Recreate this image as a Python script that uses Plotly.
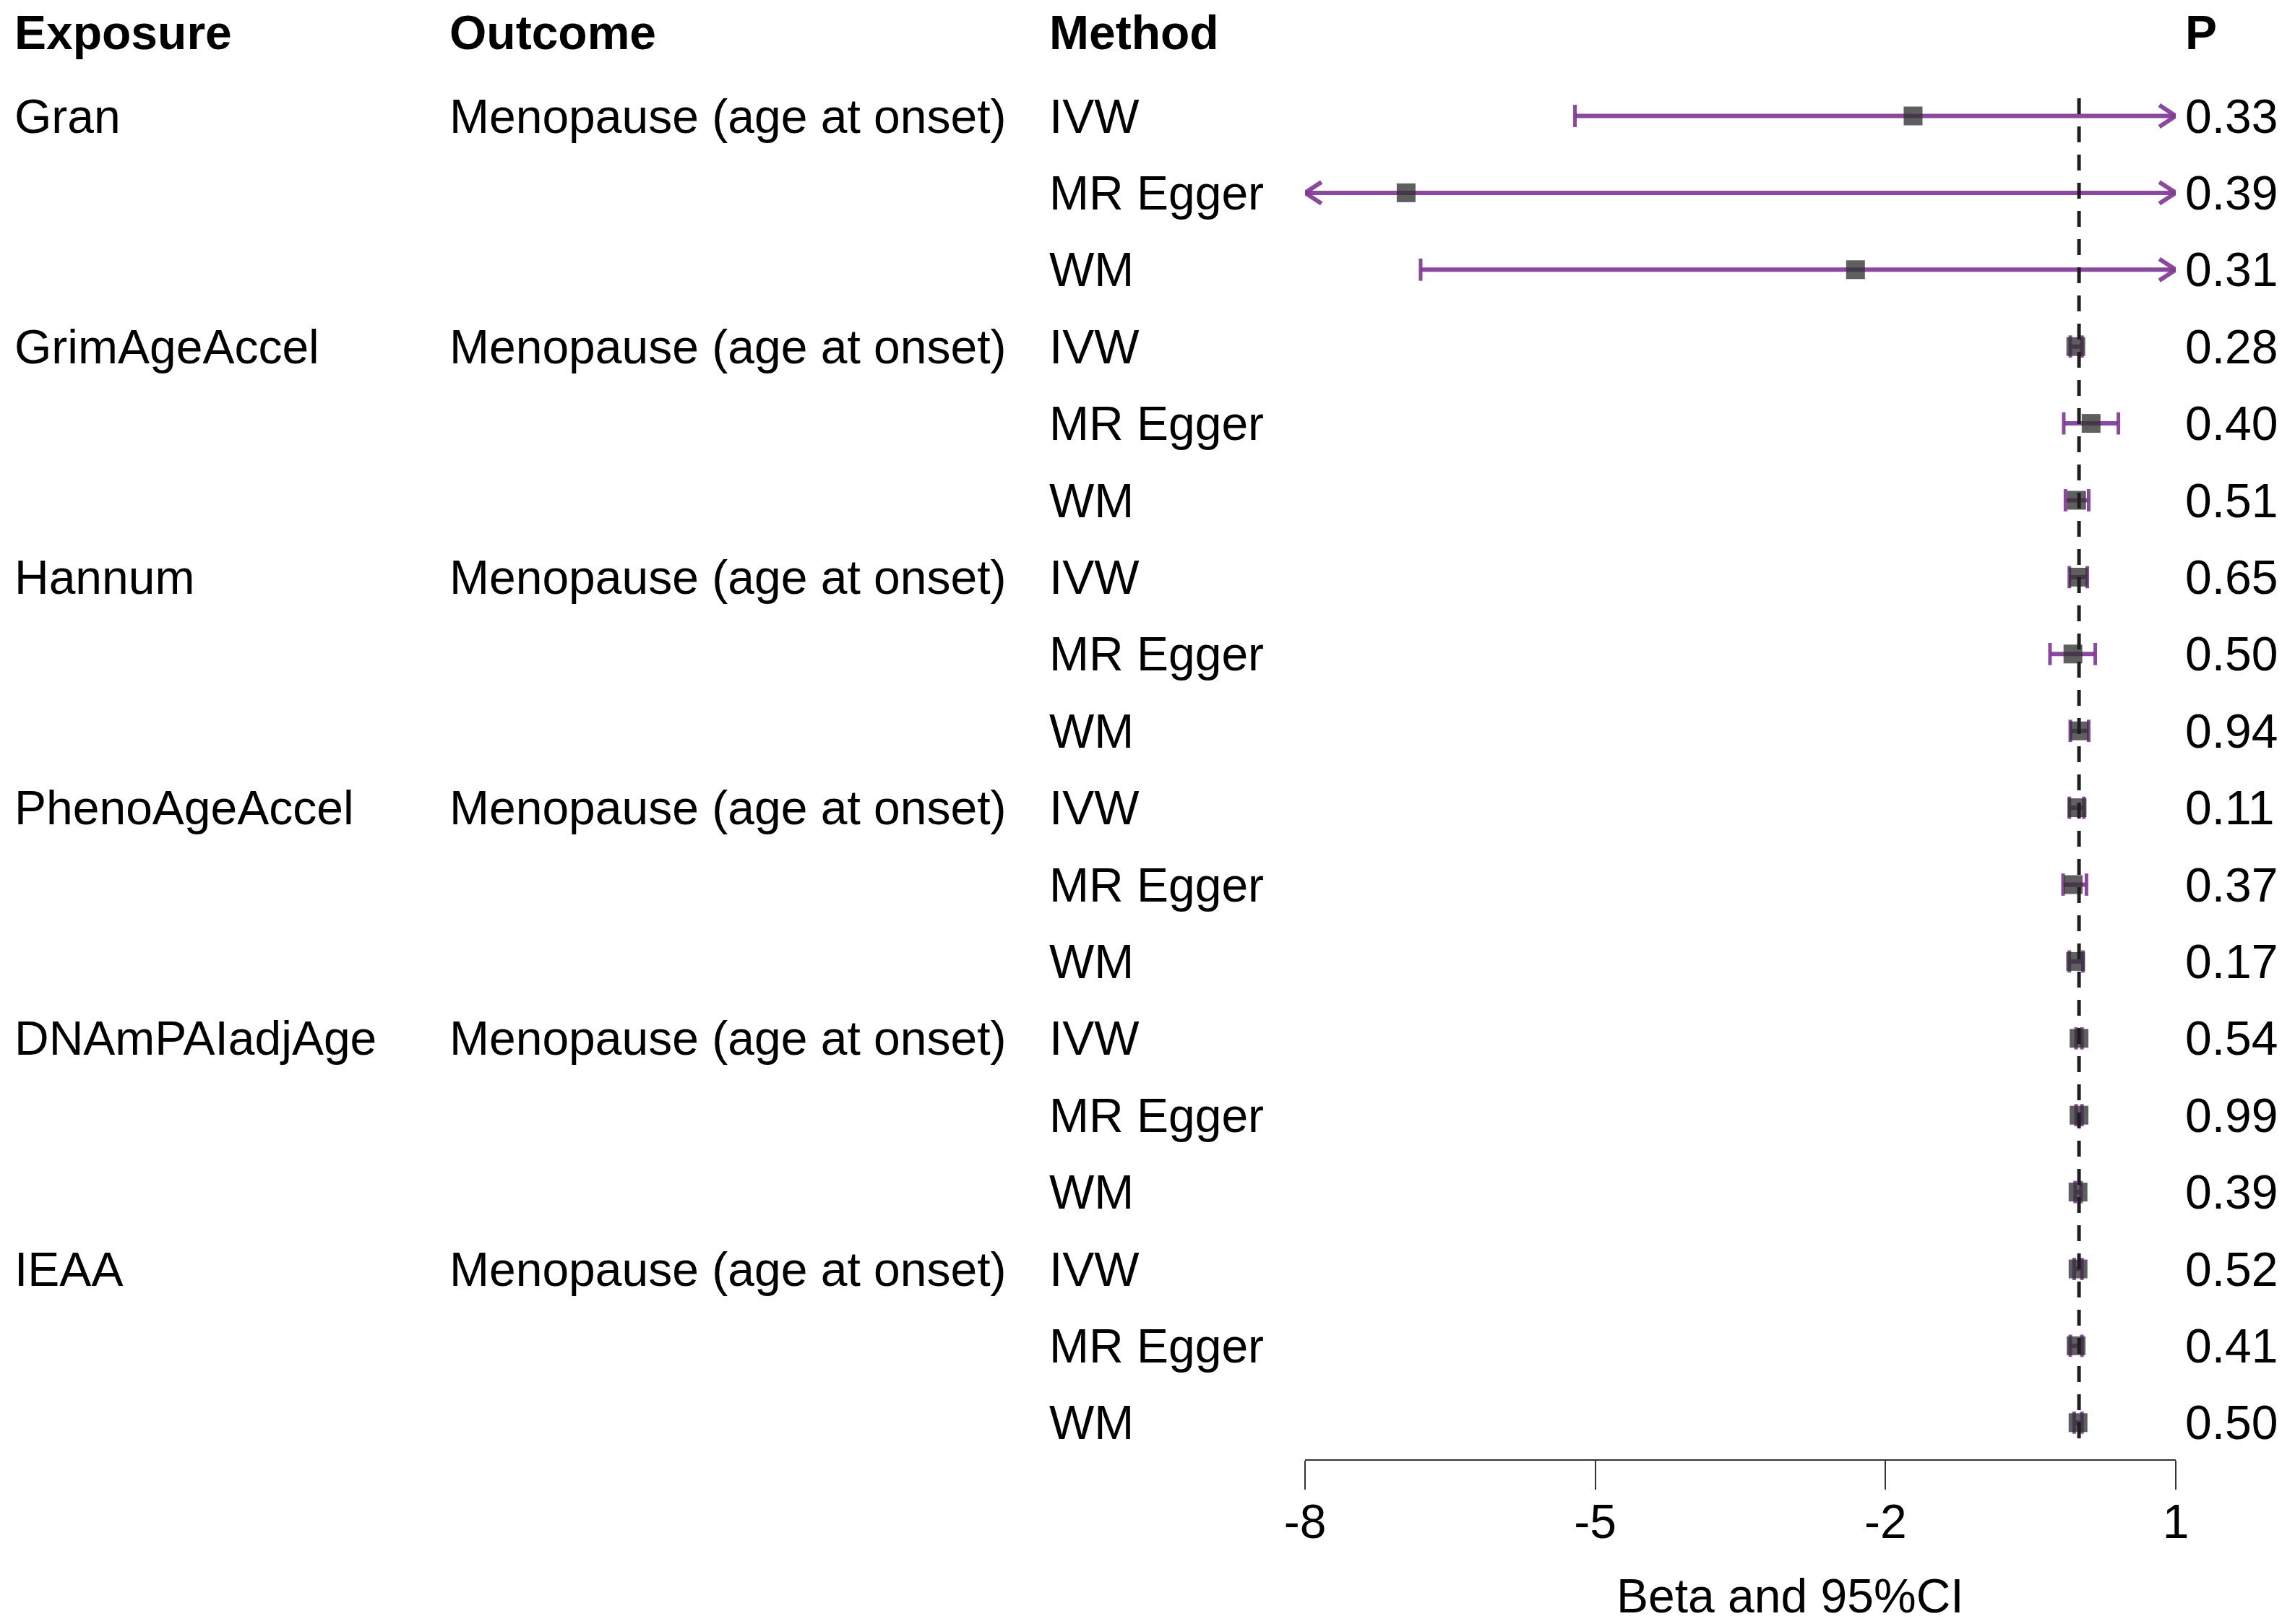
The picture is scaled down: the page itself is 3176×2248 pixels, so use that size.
import plotly.graph_objects as go

exposures = ["Gran", "GrimAgeAccel", "Hannum", "PhenoAgeAccel", "DNAmPAIadjAge", "IEAA"]
outcome = "Menopause (age at onset)"
methods = ["IVW", "MR Egger", "WM"]

beta = [-1.715, -6.955, -2.31,
        -0.033, 0.125, -0.025,
        -0.008, -0.063, 0.003,
        -0.02, -0.06, -0.035,
        0.0, 0.0, -0.01,
        -0.01, -0.03, -0.01]
lower = [-5.21, -22.8, -6.805,
         -0.09, -0.158, -0.14,
         -0.10, -0.30, -0.09,
         -0.10, -0.165, -0.10,
         -0.03, -0.03, -0.04,
         -0.05, -0.09, -0.05]
upper = [1.75, 8.9, 2.15,
         0.03, 0.407, 0.10,
         0.085, 0.168, 0.10,
         0.05, 0.077, 0.04,
         0.03, 0.03, 0.02,
         0.03, 0.03, 0.03]
pvals = ["0.33", "0.39", "0.31", "0.28", "0.40", "0.51", "0.65", "0.50", "0.94",
         "0.11", "0.37", "0.17", "0.54", "0.99", "0.39", "0.52", "0.41", "0.50"]

xticks = [-8, -5, -2, 1]
xmin, xmax = -8, 1
ref = 0

W, H = 3176, 2248
OX, OY = 8, 8          # page body margin
FONT = "Liberation Sans, Arial, sans-serif"
FS = 66
PURPLE = "rgba(128,58,150,0.92)"

rows = list(range(len(beta)))
row0, rowstep = 160.5 - OY, 106.4
axis_px = 2020 - OY

fig = go.Figure()

# CI lines (clipped to the axis range), caps and arrows for clipped ends
lx, ly = [], []
cap_x, cap_y = [], []
arr_x, arr_y = [], []
dx = 0.17   # arrow length in data units
dy = 0.14   # arrow half height in rows
for i in rows:
    lo = max(lower[i], xmin)
    hi = min(upper[i], xmax)
    lx += [lo, hi, None]
    ly += [i, i, None]
    if lower[i] < xmin:
        arr_x += [xmin + dx, xmin, xmin + dx, None]
        arr_y += [i - dy, i, i + dy, None]
    else:
        cap_x.append(lo)
        cap_y.append(i)
    if upper[i] > xmax:
        arr_x += [xmax - dx, xmax, xmax - dx, None]
        arr_y += [i - dy, i, i + dy, None]
    else:
        cap_x.append(hi)
        cap_y.append(i)

fig.add_trace(go.Scatter(x=lx, y=ly, mode="lines",
                         line=dict(color=PURPLE, width=6), hoverinfo="skip"))
fig.add_trace(go.Scatter(x=arr_x, y=arr_y, mode="lines",
                         line=dict(color=PURPLE, width=6), hoverinfo="skip"))
fig.add_trace(go.Scatter(x=cap_x, y=cap_y, mode="markers",
                         marker=dict(symbol="line-ns", size=22,
                                     line=dict(color=PURPLE, width=5)),
                         hoverinfo="skip"))
fig.add_trace(go.Scatter(x=beta, y=rows, mode="markers",
                         marker=dict(symbol="square", size=26,
                                     color="rgba(50,50,50,0.78)",
                                     line=dict(width=0))))

# reference line
fig.add_shape(type="line", x0=ref, x1=ref, y0=-0.23, y1=17.35,
              xref="x", yref="y",
              line=dict(color="#1e1e1e", width=5, dash="22px,17px"))


def txt(x, y, s, bold=False):
    fig.add_annotation(x=(x - OX) / W, y=y, xref="paper", yref="y",
                       text=f"<b>{s}</b>" if bold else s,
                       showarrow=False, xanchor="left", yanchor="middle",
                       font=dict(family=FONT, size=FS, color="black"))


col_exp, col_out, col_met, col_p = 18, 620, 1450, 3022
hdr = -1.09
txt(col_exp, hdr, "Exposure", True)
txt(col_out, hdr, "Outcome", True)
txt(col_met, hdr, "Method", True)
txt(col_p, hdr, "P", True)

for i in rows:
    g, m = divmod(i, len(methods))
    if m == 0:
        txt(col_exp, i, exposures[g])
        txt(col_out, i, outcome)
    txt(col_met, i, methods[m])
    txt(col_p, i, pvals[i])

fig.add_annotation(x=(2477 - OX) / W, y=1 - (2209 - OY) / H, xref="paper", yref="paper",
                   text="Beta and 95%CI", showarrow=False,
                   xanchor="center", yanchor="middle",
                   font=dict(family=FONT, size=FS, color="black"))

fig.update_layout(
    width=W, height=H,
    margin=dict(l=0, r=0, t=0, b=0, pad=0, autoexpand=False),
    paper_bgcolor="white", plot_bgcolor="white",
    showlegend=False,
    xaxis=dict(domain=[(1806 - OX) / W, (3011 - OX) / W], range=[xmin, xmax],
               tickvals=xticks, ticktext=[str(t) for t in xticks],
               ticks="outside", ticklen=40, tickwidth=2, tickcolor="#333333",
               ticklabelstandoff=-12, automargin=False,
               showline=True, linewidth=2, linecolor="#333333",
               showgrid=False, zeroline=False,
               tickfont=dict(family=FONT, size=FS, color="black")),
    yaxis=dict(domain=[(H - axis_px) / H, 1],
               range=[(axis_px - row0) / rowstep, -row0 / rowstep],
               visible=False, showgrid=False, zeroline=False, automargin=False),
)

fig.write_html("out.html")
